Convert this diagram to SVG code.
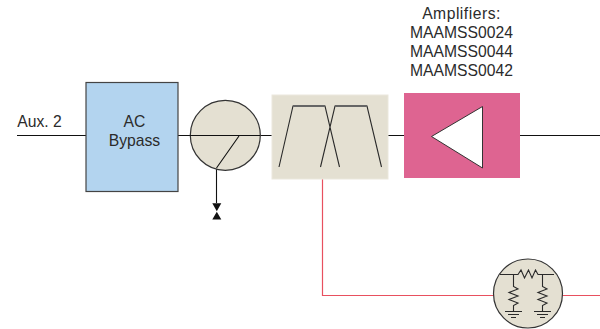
<svg xmlns="http://www.w3.org/2000/svg" width="600" height="329" viewBox="0 0 600 329">
<style>
text{font-family:"Liberation Sans",Arial,sans-serif;font-size:15.7px;fill:#2b2b2b;text-anchor:middle}
.w{fill:none;stroke:#111;stroke-width:1.100}
.r{fill:none;stroke:#e8505f;stroke-width:1.200}
.g{fill:none;stroke:#2a2a2a;stroke-width:1.100}
</style>
<rect width="600" height="329" fill="#fff"/>
<g id="connectors">
<path class="w" d="M17 135.500H86M178 135.500H272M388 135.500H404M520 135.500H600"/>
<path class="w" d="M216.500 168V203"/>
<path class="r" d="M322.500 179V295.500H494M562 295.500H600"/>
</g>
<g id="aux-label"><text x="39.500" y="126.500">Aux. 2</text></g>
<g id="ac-bypass">
<rect x="86" y="82.500" width="92" height="109" fill="#b3d4ef" stroke="#444" stroke-width="1.200"/>
<text x="134.500" y="126.500">AC</text><text x="134.500" y="146">Bypass</text>
</g>
<g id="switch">
<circle cx="225.300" cy="135.300" r="35" fill="#e4e0d2" stroke="#333" stroke-width="1.200"/>
<path class="w" d="M190 135.500H260M239 136L216.500 168"/>
<path d="M212.300 203.300H221.300L216.800 211.300ZM212.300 219.500H221.300L216.800 211.800Z" fill="#111"/>
</g>
<g id="filter">
<rect x="272" y="95" width="116" height="84" fill="#e4e0d2" stroke="#ebe8dd"/>
<path class="g" d="M279 167L293 106H325L339.500 167M320.500 167L335 106H367L381.500 167"/>
<path d="M293 106H325M335 106H367" fill="none" stroke="#666" stroke-width="1.800"/>
</g>
<g id="amplifier">
<rect x="404" y="93" width="116" height="85" fill="#de6491"/>
<path d="M431.500 136.500L482.500 106.500V168Z" fill="#fff" stroke="#333" stroke-width="1"/>
<text x="461.500" y="18.500" letter-spacing="0.500">Amplifiers:</text>
<text x="461.500" y="38">MAAMSS0024</text>
<text x="461.500" y="57">MAAMSS0044</text>
<text x="461.500" y="76">MAAMSS0042</text>
</g>
<g id="attenuator">
<circle cx="528" cy="293.500" r="34.500" fill="#e4e0d2" stroke="#333" stroke-width="1.200"/>
<path class="g" d="M500 274.500H518L521 270L524.500 278L528.500 270L532 278L535.500 270L538 274.500H554"/>
<path class="g" d="M513.500 274.500V286.500L518 289L509 292.500L518 296L509 299.500L518 303L513.500 305.500V311.500M505 311.500H522M508 314.500H519M511 317.500H516"/>
<path class="g" d="M542.500 274.500V286.500L547 289L538 292.500L547 296L538 299.500L547 303L542.500 305.500V311.500M534 311.500H551M537 314.500H548M540 317.500H545"/>
</g>
</svg>
